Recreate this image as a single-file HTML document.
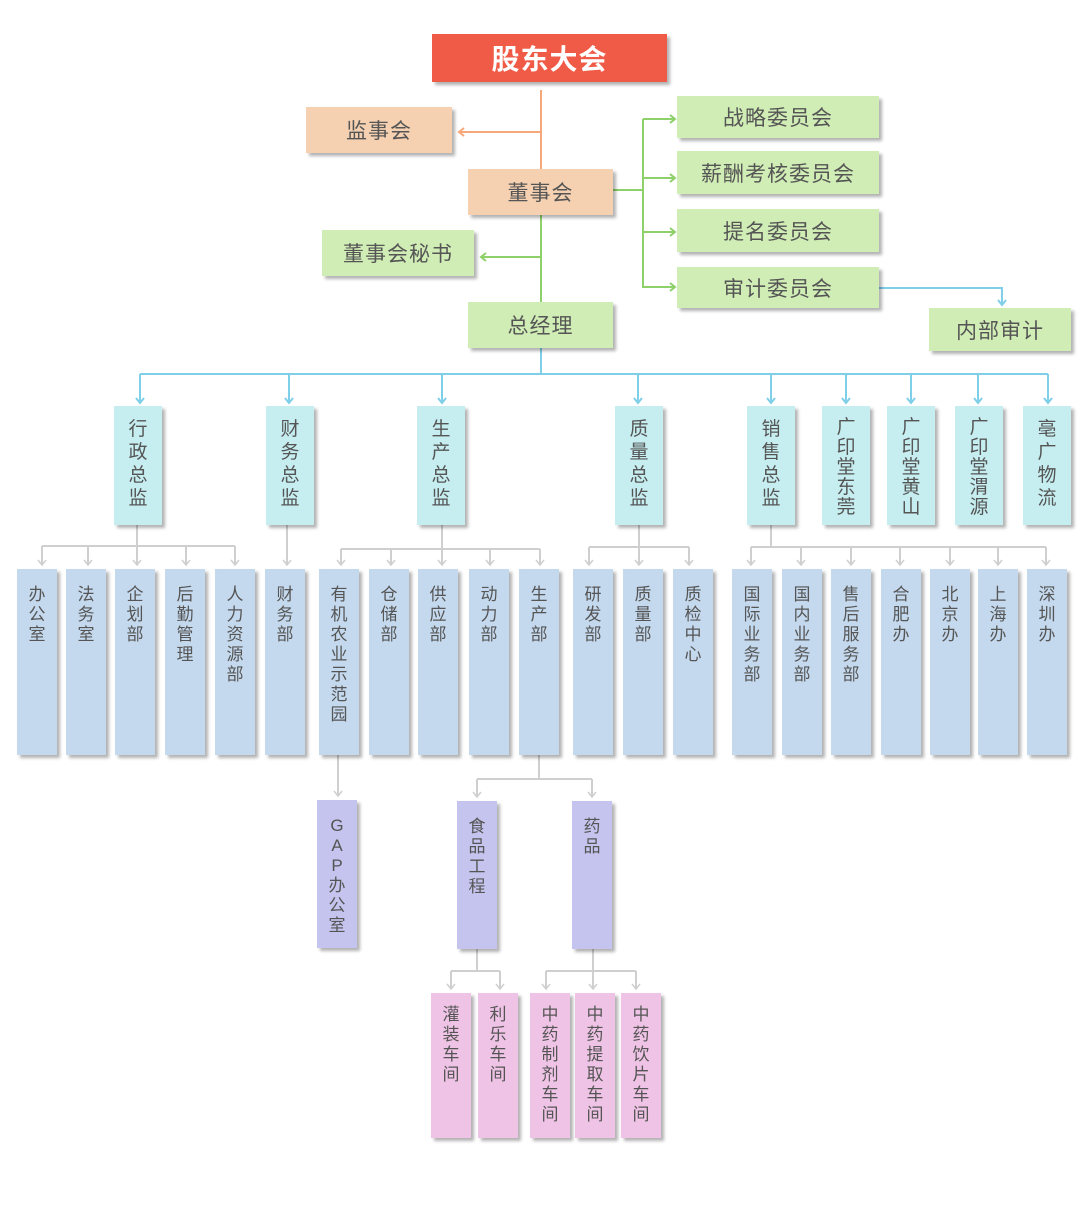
<!DOCTYPE html>
<html><head><meta charset="utf-8"><style>
body{margin:0;width:1088px;height:1213px;background:#fff;position:relative;overflow:hidden;font-family:"Liberation Sans","Noto Sans CJK SC",sans-serif;}
.b{position:absolute;box-shadow:3px 3px 3px rgba(0,0,0,.3);color:#555;display:flex;align-items:center;justify-content:center;font-size:21px;box-sizing:border-box;letter-spacing:1px}
.v{position:absolute;box-shadow:3px 3px 3px rgba(0,0,0,.3);color:#555;text-align:center;box-sizing:border-box;}
.l2{top:406px;height:119px;width:48px;background:#c6eef1;font-size:19px;line-height:23px;padding-top:12px}
.l2.f{line-height:20px;padding-top:12px}
.l3{top:569px;height:186px;width:40px;background:#c4d9ee;font-size:17px;line-height:20px;padding-top:16px}
.l4{top:800px;height:148px;width:40px;background:#c4c4ee;font-size:17px;line-height:20px;padding-top:16px}
.l5{top:993px;height:145px;width:40px;background:#efc3e5;font-size:17px;line-height:20px;padding-top:12px}
.or{background:#f5d1b1}.gr{background:#d0edb5}
svg{position:absolute;left:0;top:0}
</style></head><body>
<svg width="1088" height="1213" fill="none">
<g stroke="#f6a87a" stroke-width="2"><path d="M541 90V169M541 132H460"/><polyline points="464,128 459,132 464,136"/></g>
<g stroke="#8ed06a" stroke-width="2"><path d="M541 215V302M541 257H482M613 190H643M643 119V288M643 119H675M643 178H675M643 232H675M643 287H675"/>
<polyline points="486,253 481,257 486,261"/><polyline points="670,115 675,119 670,123"/><polyline points="670,174 675,178 670,182"/><polyline points="670,228 675,232 670,236"/><polyline points="670,283 675,287 670,291"/></g>
<g stroke="#7fcfe9" stroke-width="2"><path d="M879 288H1002V305M541 348V374M140 374H1048M140 374V403M289 374V403M442 374V403M638 374V403M771 374V403M846 374V403M911 374V403M978 374V403M1048 374V403"/>
<polyline points="998,300 1002,305 1006,300"/>
<polyline points="136,398 140,403 144,398"/><polyline points="285,398 289,403 293,398"/><polyline points="438,398 442,403 446,398"/><polyline points="634,398 638,403 642,398"/><polyline points="767,398 771,403 775,398"/><polyline points="842,398 846,403 850,398"/><polyline points="907,398 911,403 915,398"/><polyline points="974,398 978,403 982,398"/><polyline points="1044,398 1048,403 1052,398"/></g>
<g stroke="#cfcfcf" stroke-width="2">
<path d="M137 525V546M42 546H235M42 546V565M88 546V565M137 546V565M186 546V565M235 546V565"/>
<path d="M287 525V565"/>
<path d="M442 525V549M341 549H540M341 549V565M391 549V565M442 549V565M490 549V565M540 549V565"/>
<path d="M639 525V547M589 547H689M589 547V565M639 547V565M689 547V565"/>
<path d="M771 525V547M751 547H1046M751 547V565M801 547V565M851 547V565M900 547V565M950 547V565M998 547V565M1046 547V565"/>
<path d="M338 755V796M539 755V779M477 779H592M477 779V797M592 779V797"/>
<path d="M477 948V971M451 971H500M451 971V989M500 971V989M593 948V971M546 971H636M546 971V989M593 971V989M636 971V989"/>
<g stroke-width="1.5">
<polyline points="38,560 42,565 46,560"/><polyline points="84,560 88,565 92,560"/><polyline points="133,560 137,565 141,560"/><polyline points="182,560 186,565 190,560"/><polyline points="231,560 235,565 239,560"/><polyline points="283,560 287,565 291,560"/>
<polyline points="337,560 341,565 345,560"/><polyline points="387,560 391,565 395,560"/><polyline points="438,560 442,565 446,560"/><polyline points="486,560 490,565 494,560"/><polyline points="536,560 540,565 544,560"/>
<polyline points="585,560 589,565 593,560"/><polyline points="635,560 639,565 643,560"/><polyline points="685,560 689,565 693,560"/>
<polyline points="747,560 751,565 755,560"/><polyline points="797,560 801,565 805,560"/><polyline points="847,560 851,565 855,560"/><polyline points="896,560 900,565 904,560"/><polyline points="946,560 950,565 954,560"/><polyline points="994,560 998,565 1002,560"/><polyline points="1042,560 1046,565 1050,560"/>
<polyline points="334,791 338,796 342,791"/><polyline points="473,792 477,797 481,792"/><polyline points="588,792 592,797 596,792"/>
<polyline points="447,984 451,989 455,984"/><polyline points="496,984 500,989 504,984"/><polyline points="542,984 546,989 550,984"/><polyline points="589,984 593,989 597,984"/><polyline points="632,984 636,989 640,984"/>
</g></g>
</svg>
<div class="b" style="left:432px;top:34px;width:235px;height:48px;background:#f05b47;color:#fff;font-size:28px;font-weight:bold">股东大会</div>
<div class="b or" style="left:306px;top:107px;width:146px;height:46px">监事会</div>
<div class="b or" style="left:468px;top:169px;width:145px;height:46px">董事会</div>
<div class="b gr" style="left:322px;top:230px;width:152px;height:46px">董事会秘书</div>
<div class="b gr" style="left:468px;top:302px;width:145px;height:46px">总经理</div>
<div class="b gr" style="left:677px;top:96px;width:202px;height:42px">战略委员会</div>
<div class="b gr" style="left:677px;top:151px;width:202px;height:43px">薪酬考核委员会</div>
<div class="b gr" style="left:677px;top:209px;width:202px;height:43px">提名委员会</div>
<div class="b gr" style="left:677px;top:267px;width:202px;height:41px">审计委员会</div>
<div class="b gr" style="left:929px;top:308px;width:142px;height:43px">内部审计</div>

<div class="v l2" style="left:114px">行<br>政<br>总<br>监</div>
<div class="v l2" style="left:266px">财<br>务<br>总<br>监</div>
<div class="v l2" style="left:417px">生<br>产<br>总<br>监</div>
<div class="v l2" style="left:615px">质<br>量<br>总<br>监</div>
<div class="v l2" style="left:747px">销<br>售<br>总<br>监</div>
<div class="v l2 f" style="left:822px">广<br>印<br>堂<br>东<br>莞</div>
<div class="v l2 f" style="left:887px">广<br>印<br>堂<br>黄<br>山</div>
<div class="v l2 f" style="left:955px">广<br>印<br>堂<br>渭<br>源</div>
<div class="v l2" style="left:1023px">亳<br>广<br>物<br>流</div>

<div class="v l3" style="left:17px">办<br>公<br>室</div>
<div class="v l3" style="left:66px">法<br>务<br>室</div>
<div class="v l3" style="left:115px">企<br>划<br>部</div>
<div class="v l3" style="left:165px">后<br>勤<br>管<br>理</div>
<div class="v l3" style="left:215px">人<br>力<br>资<br>源<br>部</div>
<div class="v l3" style="left:265px">财<br>务<br>部</div>
<div class="v l3" style="left:319px">有<br>机<br>农<br>业<br>示<br>范<br>园</div>
<div class="v l3" style="left:369px">仓<br>储<br>部</div>
<div class="v l3" style="left:418px">供<br>应<br>部</div>
<div class="v l3" style="left:469px">动<br>力<br>部</div>
<div class="v l3" style="left:519px">生<br>产<br>部</div>
<div class="v l3" style="left:573px">研<br>发<br>部</div>
<div class="v l3" style="left:623px">质<br>量<br>部</div>
<div class="v l3" style="left:673px">质<br>检<br>中<br>心</div>
<div class="v l3" style="left:732px">国<br>际<br>业<br>务<br>部</div>
<div class="v l3" style="left:782px">国<br>内<br>业<br>务<br>部</div>
<div class="v l3" style="left:831px">售<br>后<br>服<br>务<br>部</div>
<div class="v l3" style="left:881px">合<br>肥<br>办</div>
<div class="v l3" style="left:930px">北<br>京<br>办</div>
<div class="v l3" style="left:978px">上<br>海<br>办</div>
<div class="v l3" style="left:1027px">深<br>圳<br>办</div>

<div class="v l4" style="left:317px">G<br>A<br>P<br>办<br>公<br>室</div>
<div class="v l4" style="left:457px;top:801px">食<br>品<br>工<br>程</div>
<div class="v l4" style="left:572px;top:801px">药<br>品</div>

<div class="v l5" style="left:431px">灌<br>装<br>车<br>间</div>
<div class="v l5" style="left:478px">利<br>乐<br>车<br>间</div>
<div class="v l5" style="left:530px">中<br>药<br>制<br>剂<br>车<br>间</div>
<div class="v l5" style="left:575px">中<br>药<br>提<br>取<br>车<br>间</div>
<div class="v l5" style="left:621px">中<br>药<br>饮<br>片<br>车<br>间</div>
</body></html>
